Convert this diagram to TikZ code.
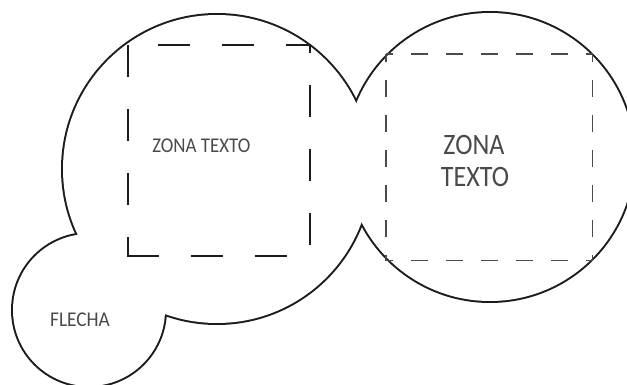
\documentclass[tikz,border=0pt]{standalone}
\usepackage{fontspec}
\setmainfont{Carlito}
\definecolor{outlinec}{HTML}{1C1C1C}
\definecolor{textc}{HTML}{4A4A4A}
\definecolor{dashc}{HTML}{4A4A4A}
\begin{document}
\begin{tikzpicture}[x=1pt,y=-1pt,
  bubble/.style={line width=4pt, draw=outlinec},
  bubblefill/.style={fill=white},
  bigdash/.style={line width=1.6pt, draw=outlinec, dash pattern=on 32pt off 32pt},
  smalldash/.style={line width=1.2pt, draw=dashc, dash pattern=on 17pt off 18pt},
  lbl/.style={text=textc, inner sep=0pt, anchor=base}]
\useasboundingbox (0,0) rectangle (627,385);
% outline of the union of the three bubbles
\draw[bubble] (217,169) circle[radius=154pt];
\draw[bubble] (490,157) circle[radius=144pt];
\draw[bubble] (89,310) circle[radius=76pt];
\fill[bubblefill] (217,169) circle[radius=154pt];
\fill[bubblefill] (490,157) circle[radius=144pt];
\fill[bubblefill] (89,310) circle[radius=76pt];
% left text zone
\draw[bigdash] (128,45) -- (128,256.8);
\draw[bigdash] (127.2,256) -- (310,256);
\draw[bigdash, dash phase=24pt] (310,45) -- (310,256);
\draw[bigdash, dash phase=34pt] (128,45) -- (310.8,45);
% right text zone
\draw[smalldash, dash phase=10pt] (386,54) -- (592.7,54);
\draw[smalldash, dash phase=10pt] (386,260.5) -- (592.7,260.5);
\draw[smalldash, dash phase=9pt] (386,54) -- (386,260.5);
\draw[smalldash, dash phase=9pt] (592.7,54) -- (592.7,260.5);
% texts
\node[lbl] (zonaL) at (201.3,152.7) {\fontsize{21}{25}\selectfont\scalebox{0.9}[1]{ZONA TEXTO}};
\node[lbl] (zonaR1) at (474,155) {\fontsize{29.6}{32}\selectfont\scalebox{0.88}[1]{ZONA}};
\node[lbl] (zonaR2) at (475,186.7) {\fontsize{29.6}{32}\selectfont\scalebox{0.88}[1]{TEXTO}};
\node[lbl] (flecha) at (80,326.7) {\fontsize{21}{25}\selectfont\scalebox{0.92}[1]{FLECHA}};
\end{tikzpicture}
\end{document}
